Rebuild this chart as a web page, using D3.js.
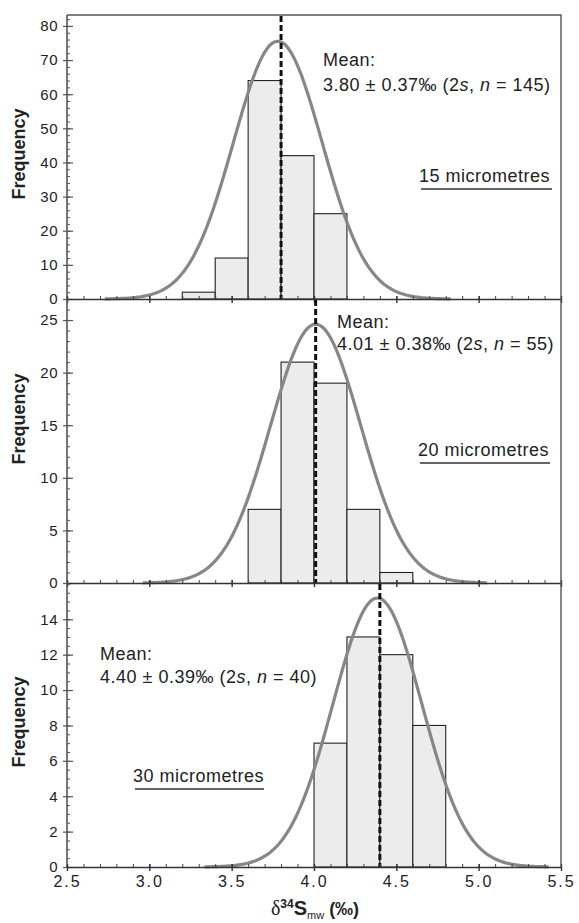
<!DOCTYPE html>
<html>
<head>
<script src="https://d3js.org/d3.v7.min.js"></script>
<style>
  body { margin: 0; background: #fff; }
  text { font-family: "Liberation Sans", Arial, sans-serif; fill: #222; }
</style>
</head>
<body>
<svg id="chart"></svg>
<script>
// three grain-size histograms of d34S
const panelNames = ["15 micrometres", "20 micrometres", "30 micrometres"];
const binStarts15 = [3.2, 3.4, 3.6, 3.8, 4.0];
const counts15 = [2, 12, 64, 42, 25];
const binStarts20 = [3.6, 3.8, 4.0, 4.2, 4.4];
const counts20 = [7, 21, 19, 7, 1];
const binStarts30 = [4.0, 4.2, 4.4, 4.6];
const counts30 = [7, 13, 12, 8];
const binWidth = 0.2;
const means = [3.80, 4.01, 4.40];
const meanLabels = ["3.80 ± 0.37‰", "4.01 ± 0.38‰", "4.40 ± 0.39‰"];
const nValues = [145, 55, 40];
// fitted normal curves: centre, peak height, sd
const curveCentres = [3.78, 4.01, 4.385];
const curvePeaks = [75.5, 24.6, 15.2];
const curveSd = [0.27, 0.275, 0.27];
const yMax = [83.2, 27, 16.05];
const yMajor = [[0,10,20,30,40,50,60,70,80], [0,5,10,15,20,25], [0,2,4,6,8,10,12,14]];
const yMinorStep = [2, 1, 0.5];
const xTicks = [2.5, 3.0, 3.5, 4.0, 4.5, 5.0, 5.5];

const width = 579, height = 923;
const left = 67, right = 561;
const panelTop = [15, 299, 583];
const panelBottom = [299, 583, 867];

const svg = d3.select("#chart").attr("width", width).attr("height", height);

const x = d3.scaleLinear().domain([2.5, 5.5]).range([left, right]);

const panels = [
  {starts: binStarts15, counts: counts15},
  {starts: binStarts20, counts: counts20},
  {starts: binStarts30, counts: counts30}
];

// annotation layout
const meanPos = [[323, 66, 25], [337, 328, 22], [100, 660, 23]];
const namePos = [[419, 182, 552], [418, 456, 550], [133, 782, 264]];
const freqY = [154, 419, 722];

const xMinor = d3.range(2.5, 5.5001, 0.1).map(v => +v.toFixed(2));

panels.forEach((p, i) => {
  const y = d3.scaleLinear().domain([0, yMax[i]]).range([panelBottom[i], panelTop[i]]);
  const g = svg.append("g");

  // bars
  g.selectAll("rect.bar")
    .data(p.starts.map((s, k) => ({s: s, c: p.counts[k]})))
    .join("rect")
    .attr("class", "bar")
    .attr("x", d => x(d.s))
    .attr("y", d => y(d.c))
    .attr("width", d => x(d.s + binWidth) - x(d.s))
    .attr("height", d => y(0) - y(d.c))
    .attr("fill", "#ececec")
    .attr("stroke", "#222")
    .attr("stroke-width", 1.1);

  // normal curve
  const xs = d3.range(curveCentres[i] - 1.05, curveCentres[i] + 1.05, 0.01)
    .filter(v => v >= 2.5 && v <= 5.5);
  const curve = d3.line()
    .x(v => x(v))
    .y(v => y(curvePeaks[i] * Math.exp(-Math.pow(v - curveCentres[i], 2) / (2 * curveSd[i] * curveSd[i]))));
  g.append("path")
    .datum(xs)
    .attr("d", curve)
    .attr("fill", "none")
    .attr("stroke", "#878787")
    .attr("stroke-width", 3.2);

  // mean line
  g.append("line")
    .attr("x1", x(means[i])).attr("x2", x(means[i]))
    .attr("y1", panelTop[i] + 1).attr("y2", y(0))
    .attr("stroke", "#111")
    .attr("stroke-width", 3)
    .attr("stroke-dasharray", "6,3");

  // y axis: minor ticks inward, majors crossing
  const yMinor = d3.range(0, yMax[i], yMinorStep[i]);
  g.append("g")
    .attr("transform", `translate(${left},0)`)
    .call(d3.axisRight(y).tickValues(yMinor).tickSize(3).tickFormat(""))
    .call(a => a.select(".domain").remove())
    .selectAll("line").attr("stroke", "#555");
  const ya = g.append("g")
    .attr("transform", `translate(${left},0)`)
    .call(d3.axisLeft(y).tickValues(yMajor[i]).tickSize(4).tickPadding(5).tickSizeOuter(0));
  ya.select(".domain").attr("stroke", "#555").attr("stroke-width", 1.6)
    .attr("d", `M0,${panelBottom[i]}V${panelTop[i]}`);
  ya.selectAll(".tick line").attr("x2", -4).attr("x1", 6).attr("stroke", "#555").attr("stroke-width", 1.2);
  ya.selectAll(".tick text")
    .style("font-family", "Liberation Sans, Arial, sans-serif")
    .style("font-size", "15px").style("letter-spacing", "0.5px").attr("fill", "#222");

  // x axis
  g.append("g")
    .attr("transform", `translate(0,${panelBottom[i]})`)
    .call(d3.axisTop(x).tickValues(xMinor).tickSize(3).tickFormat(""))
    .call(a => a.select(".domain").remove())
    .selectAll("line").attr("stroke", "#444");
  const xa = g.append("g")
    .attr("transform", `translate(0,${panelBottom[i]})`)
    .call(d3.axisBottom(x).tickValues(xTicks).tickSize(3).tickSizeOuter(0).tickPadding(6)
      .tickFormat(i === 2 ? d3.format(".1f") : ""));
  xa.select(".domain").attr("stroke", "#333").attr("stroke-width", 1.4);
  xa.selectAll(".tick line").attr("y1", -3).attr("y2", 4).attr("stroke", "#333").attr("stroke-width", 1.4);
  xa.selectAll(".tick text")
    .style("font-family", "Liberation Sans, Arial, sans-serif")
    .style("font-size", "16px").style("letter-spacing", "2px").attr("fill", "#222");

  // y title
  g.append("text")
    .attr("transform", `translate(25,${freqY[i]}) rotate(-90)`)
    .attr("text-anchor", "middle")
    .style("font-size", "18px").style("font-weight", "bold")
    .text("Frequency");

  // mean annotation
  const mp = meanPos[i];
  g.append("text").attr("x", mp[0]).attr("y", mp[1])
    .style("font-size", "18px").style("letter-spacing", "0.5px").text("Mean:");
  const t2 = g.append("text").attr("x", mp[0]).attr("y", mp[1] + mp[2])
    .style("font-size", "18px").style("letter-spacing", "0.5px");
  t2.append("tspan").text(meanLabels[i] + " (2");
  t2.append("tspan").style("font-style", "italic").text("s");
  t2.append("tspan").text(", ");
  t2.append("tspan").style("font-style", "italic").text("n");
  t2.append("tspan").text(" = " + nValues[i] + ")");

  // grain size label
  const np = namePos[i];
  g.append("text").attr("x", np[0]).attr("y", np[1])
    .style("font-size", "18px").style("letter-spacing", "0.5px")
    .text(panelNames[i]);
  g.append("line")
    .attr("x1", np[0] + 2).attr("x2", np[2])
    .attr("y1", np[1] + 7).attr("y2", np[1] + 7)
    .attr("stroke", "#333").attr("stroke-width", 1.5);
});

// frame: top and right
svg.append("path")
  .attr("d", `M${left},${panelTop[0]}H${right}V${panelBottom[2]}`)
  .attr("fill", "none").attr("stroke", "#555").attr("stroke-width", 1.4);

// x title
const xt = svg.append("text")
  .attr("x", 315).attr("y", 915)
  .attr("text-anchor", "middle")
  .style("font-size", "18px").style("font-weight", "bold");
xt.append("tspan").style("font-family", "Liberation Serif, serif").style("font-weight", "normal").style("font-size", "20px").text("δ");
xt.append("tspan").attr("dy", -7).style("font-size", "12px").text("34");
xt.append("tspan").attr("dy", 7).style("font-size", "20px").text("S");
xt.append("tspan").attr("dy", 4).style("font-size", "11px").style("font-weight", "normal").text("mw");
xt.append("tspan").attr("dy", -4).text(" (‰)");
</script>
</body>
</html>
